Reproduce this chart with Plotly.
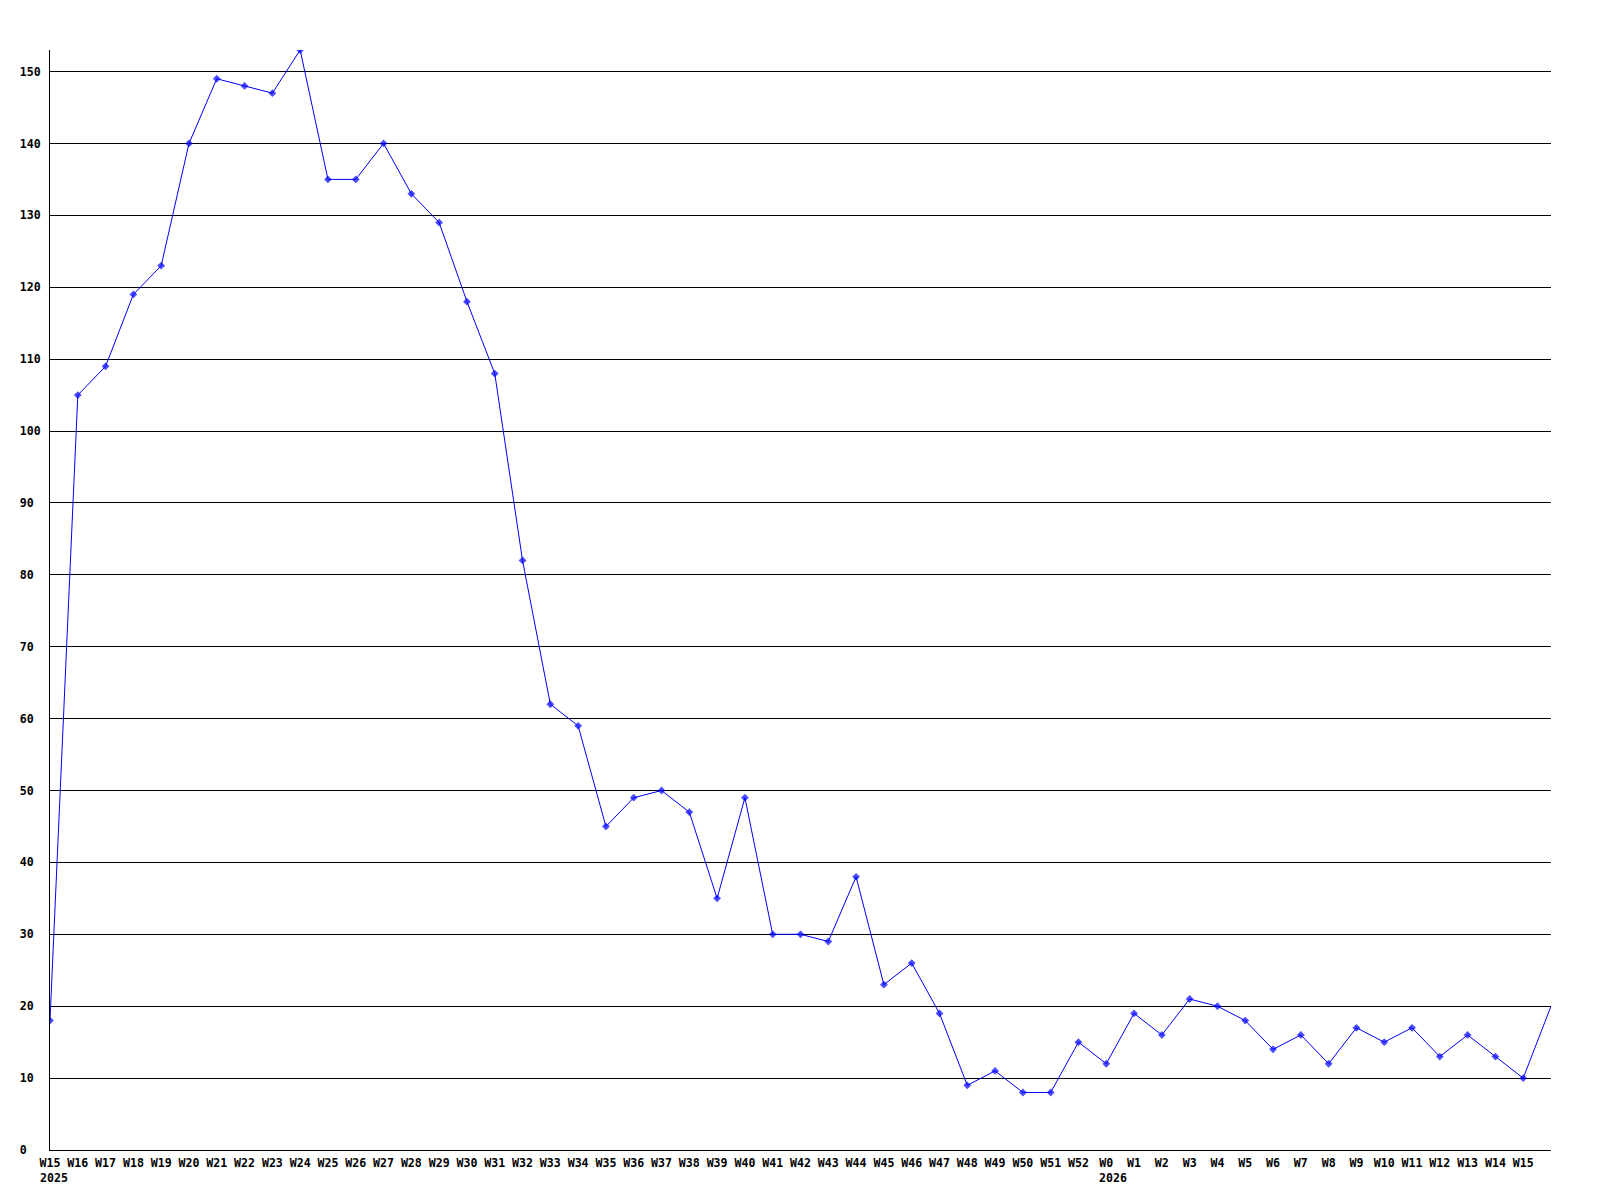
import plotly.graph_objects as go

# weekly counts, W15 2025 .. W15 2026
week_labels = [
    "W15", "W16", "W17", "W18", "W19", "W20", "W21", "W22", "W23", "W24",
    "W25", "W26", "W27", "W28", "W29", "W30", "W31", "W32", "W33", "W34",
    "W35", "W36", "W37", "W38", "W39", "W40", "W41", "W42", "W43", "W44",
    "W45", "W46", "W47", "W48", "W49", "W50", "W51", "W52",
    "W0", "W1", "W2", "W3", "W4", "W5", "W6", "W7", "W8", "W9",
    "W10", "W11", "W12", "W13", "W14", "W15",
]
counts = [
    18, 105, 109, 119, 123, 140, 149, 148, 147, 153,
    135, 135, 140, 133, 129, 118, 108, 82, 62, 59,
    45, 49, 50, 47, 35, 49, 30, 30, 29, 38,
    23, 26, 19, 9, 11, 8, 8, 15,
    12, 19, 16, 21, 20, 18, 14, 16, 12, 17,
    15, 17, 13, 16, 13, 10,
]
# current (unfinished) week, drawn without marker or label
current_week_count = 20

year_labels = ["2025", "2026"]
year_start_labels = [0, 38]  # index of first week of each year

y_ticks = list(range(0, 151, 10))

FONT = dict(family="DejaVu Sans Mono", size=11.6, color="black", weight="bold")

x = list(range(len(counts) + 1))
y = counts + [current_week_count]
marker_sizes = [6] * len(counts) + [0]

fig = go.Figure()

fig.add_trace(go.Scatter(
    x=x,
    y=y,
    mode="lines+markers",
    line=dict(color="#0000ff", width=1),
    marker=dict(symbol="diamond", size=marker_sizes, color="#0000ff", line=dict(width=0)),
    hoverinfo="x+y",
))

# y tick labels are left-aligned in the original, pad with nbsp (monospace)
width = max(len(str(v)) for v in y_ticks)
y_ticktext = [str(v) + "\u00a0" * (width - len(str(v))) for v in y_ticks]

# page body has an 8px margin, so the figure is shrunk by that much
fig.update_layout(
    width=1592,
    height=1192,
    margin=dict(l=42, r=49, t=42, b=50),
    paper_bgcolor="white",
    plot_bgcolor="white",
    showlegend=False,
    font=FONT,
    xaxis=dict(
        range=[0, len(counts)],
        tickmode="array",
        tickvals=list(range(len(week_labels))),
        ticktext=week_labels,
        tickangle=0,
        showgrid=False,
        zeroline=False,
        showline=True,
        linecolor="black",
        linewidth=1,
        ticks="",
        ticklabelstandoff=2,
        tickfont=FONT,
        layer="above traces",
    ),
    yaxis=dict(
        range=[0, max(counts)],
        tickmode="array",
        tickvals=y_ticks,
        ticktext=y_ticktext,
        showgrid=True,
        gridcolor="black",
        gridwidth=1,
        zeroline=False,
        showline=True,
        linecolor="black",
        linewidth=1,
        ticks="",
        ticklabelstandoff=6,
        tickfont=FONT,
        layer="above traces",
    ),
)

for label, idx in zip(year_labels, year_start_labels):
    half = len(week_labels[idx]) * 7 / 2
    fig.add_annotation(
        x=idx,
        y=0,
        xref="x",
        yref="paper",
        text=label,
        showarrow=False,
        xanchor="left",
        yanchor="top",
        xshift=-half - 2,
        yshift=-19,
        font=FONT,
    )

fig.write_html("out.html")
